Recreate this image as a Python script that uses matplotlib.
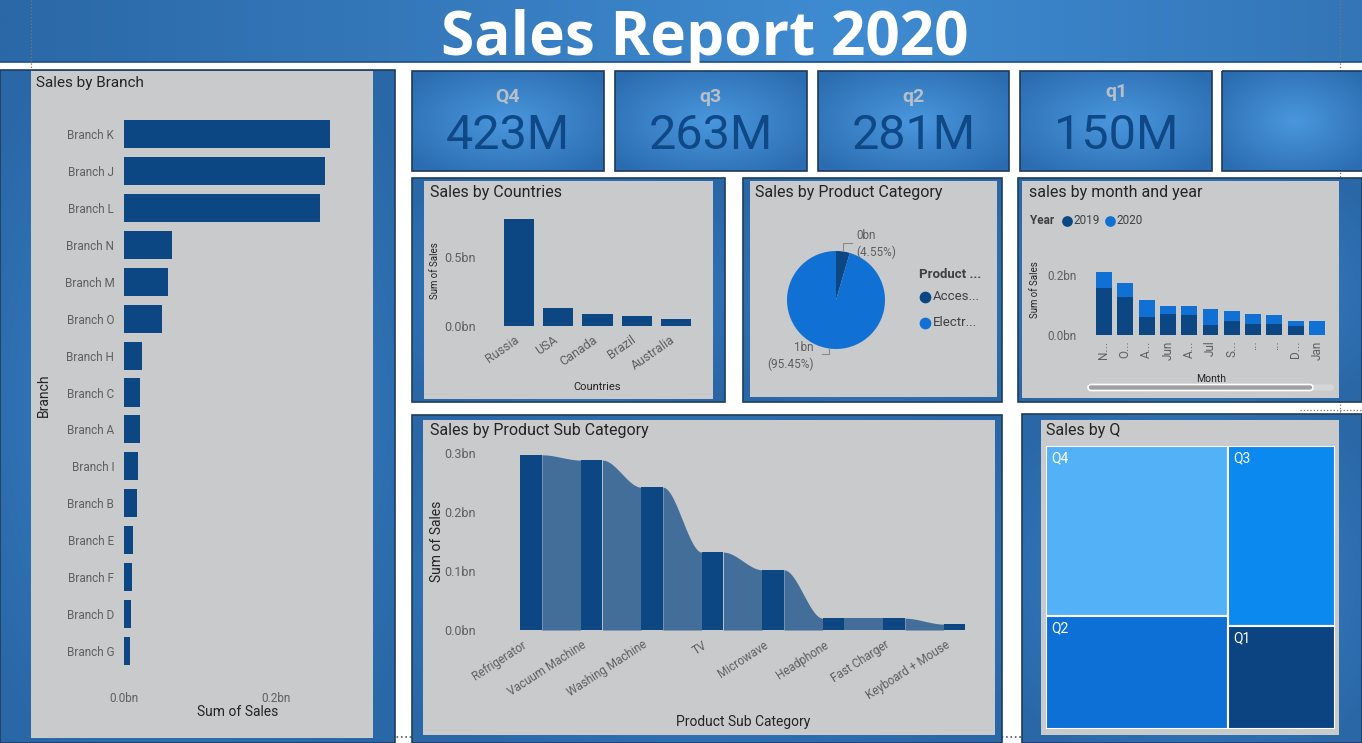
import numpy as np
import matplotlib.pyplot as plt
import matplotlib.patches as mpatches
from matplotlib.colors import to_rgb
from matplotlib.transforms import ScaledTranslation

plt.rcParams['font.family'] = ['Roboto', 'DejaVu Sans']

W, H = 1362, 743

# ---------------- data ----------------
report_title = "Sales Report 2020"
kpi_labels = ["Q4", "q3", "q2", "q1"]
kpi_values = ["423M", "263M", "281M", "150M"]

branches = ["Branch K", "Branch J", "Branch L", "Branch N", "Branch M", "Branch O", "Branch H",
            "Branch C", "Branch A", "Branch I", "Branch B", "Branch E", "Branch F", "Branch D", "Branch G"]
branch_sales = [0.271, 0.264, 0.258, 0.063, 0.058, 0.050, 0.024,
                0.021, 0.021, 0.018, 0.017, 0.012, 0.011, 0.009, 0.008]

countries = ["Russia", "USA", "Canada", "Brazil", "Australia"]
country_sales = [0.775, 0.13, 0.087, 0.072, 0.05]

categories = ["Acces...", "Electr..."]
category_share = [4.55, 95.45]
category_labels = ["0bn\n(4.55%)", "1bn\n(95.45%)"]

months = ["N...", "O...", "A...", "Jun", "A...", "Jul", "S...", "...", "...", "D...", "Jan"]
years = ["2019", "2020"]
sales_2019 = [0.156, 0.126, 0.059, 0.069, 0.066, 0.032, 0.046, 0.038, 0.036, 0.029, 0.0]
sales_2020 = [0.054, 0.046, 0.057, 0.029, 0.031, 0.056, 0.035, 0.033, 0.031, 0.019, 0.048]

subcats = ["Refrigerator", "Vacuum Machine", "Washing Machine", "TV", "Microwave",
           "Headphone", "Fast Charger", "Keyboard + Mouse"]
subcat_sales = [0.297, 0.288, 0.242, 0.132, 0.102, 0.020, 0.020, 0.010]

quarters = ["Q4", "Q3", "Q2", "Q1"]
quarter_sales = [423, 263, 281, 150]

# ---------------- style ----------------
NAVY = "#0c4783"
MID = "#1170d4"
RIBBON = "#426e99"
PANEL = "#c8cacc"
TICK = "#5f5f5f"
DARK = "#252423"
tm_colors = {"Q4": "#53b1f8", "Q3": "#0b89ef", "Q2": "#0c70d6", "Q1": "#0b4480"}

fig = plt.figure(figsize=(W / 100, H / 100), dpi=100, facecolor='white')
bg = fig.add_axes([0, 0, 1, 1])
bg.set_axis_off()


def px_axes(x0, y0, x1, y1):
    ax = fig.add_axes([x0 / W, 1 - y1 / H, (x1 - x0) / W, (y1 - y0) / H])
    ax.set_facecolor('none')
    for s in ax.spines.values():
        s.set_visible(False)
    return ax


def shade(x0, y0, x1, y1, c_in, c_out, mode='radial', z=1):
    xx, yy = np.meshgrid(np.linspace(-1, 1, 80), np.linspace(-1, 1, 80))
    if mode == 'radial':
        t = np.clip(np.hypot(xx, yy) / 1.3, 0, 1)
    else:
        t = np.clip(np.abs(xx - 0.25) / 1.25, 0, 1)
    a, b = np.array(to_rgb(c_in)), np.array(to_rgb(c_out))
    img = a * (1 - t[..., None]) + b * t[..., None]
    bg.imshow(img, extent=(x0, x1, y1, y0), aspect='auto', interpolation='bilinear', zorder=z)


def box(x0, y0, x1, y1, fc='none', ec='none', lw=0, z=2):
    bg.add_patch(mpatches.Rectangle((x0, y0), x1 - x0, y1 - y0, facecolor=fc,
                                    edgecolor=ec, linewidth=lw, zorder=z))


def txt(x, y, s, size=10, color=DARK, **kw):
    kw.setdefault('va', 'center')
    bg.text(x, y, s, fontsize=size, color=color, zorder=6, **kw)


# banner
shade(0, 0, W, 62, '#3f8bd1', '#2b68a7', mode='h')
bg.plot([0, W], [62, 62], color='#1d4f86', lw=1.2, zorder=3)
txt(705, 55, report_title, size=43.5, color='white', ha='center', va='baseline',
    family=['Open Sans', 'DejaVu Sans'], weight='bold')

# dotted guides
bg.plot([31, 31], [0, 70], ls=':', color='#777777', lw=0.9, zorder=4)
bg.plot([1340, 1340], [0, 415], ls=':', color='#777777', lw=0.9, zorder=1.5)
bg.plot([370, 1040], [737, 737], ls=':', color='#555555', lw=1.2, zorder=1.5)
bg.plot([1300, W], [410, 410], ls=':', color='#777777', lw=0.9, zorder=1.5)

# visual frames
frames = [
    ((0, 70, 395, H), (31, 71, 373, 738)),
    ((412, 178, 725, 402), (424, 181, 713, 399)),
    ((743, 178, 1002, 402), (750, 181, 997, 397)),
    ((1018, 178, W, 402), (1022, 181, 1339, 398)),
    ((412, 415, 1002, H), (423, 420, 995, 735)),
    ((1022, 414, W, H), (1041, 420, 1339, 735)),
]
for (o, i) in frames:
    shade(*o, '#3b87cd', '#2a67a7', z=2)
    box(*o, ec='#1f3d5c', lw=1.2, z=3)
    box(*i, fc=PANEL, z=3)

# KPI cards
cards = [(412, 604), (615, 807), (818, 1009), (1020, 1212), (1222, W + 5)]
for k, (x0, x1) in enumerate(cards):
    shade(x0, 71, x1, 171, '#4a97dd', '#2b6cb0', z=2)
    box(x0, 71, x1, 171, ec='#1e3a58', lw=1.2, z=3)
    if k < len(kpi_values):
        cx = (x0 + x1) / 2
        txt(cx, 97 if k < 3 else 92, kpi_labels[k], size=14, color='#b7c0ca', ha='center', weight='bold')
        txt(cx, 136, kpi_values[k], size=35, color='#0f4886', ha='center')

# panel titles
txt(36, 83, "Sales by Branch", size=11)
txt(430, 192, "Sales by Countries", size=11.5)
txt(755, 192, "Sales by Product Category", size=11.5)
txt(1029, 192, "sales by month and year", size=11.5)
txt(430, 431, "Sales by Product Sub Category", size=11.5)
txt(1046, 431, "Sales by Q", size=11.5)

# ---------------- Sales by Branch ----------------
ax = px_axes(124, 115.5, 352, 669.5)
yb = np.arange(len(branches))
ax.barh(yb, branch_sales, height=0.76, color=NAVY)
ax.set_ylim(len(branches) - 0.5, -0.5)
ax.set_xlim(0, 0.3)
ax.set_yticks(yb, branches)
ax.set_xticks([0, 0.2], ["0.0bn", "0.2bn"])
ax.tick_params(axis='y', length=0, labelsize=8.5, labelcolor=TICK, pad=7)
ax.tick_params(axis='x', length=0, labelsize=8.5, labelcolor=TICK, pad=16)
txt(238, 712, "Sum of Sales", size=10, ha='center')
txt(44, 395, "Branch", size=10, ha='center', rotation=90)

# ---------------- Sales by Countries ----------------
ax = px_axes(499.5, 208.7, 695.5, 326)
xc = np.arange(len(countries))
ax.bar(xc, country_sales, width=0.77, color=NAVY)
ax.set_xlim(-0.5, len(countries) - 0.5)
ax.set_ylim(0, 0.85)
ax.set_yticks([0, 0.5], ["0.0bn", "0.5bn"])
ax.set_xticks(xc, countries, rotation=35, ha='right', rotation_mode='anchor')
ax.tick_params(axis='y', length=0, labelsize=9, labelcolor=TICK, pad=17)
ax.tick_params(axis='x', length=0, labelsize=9, labelcolor=TICK, pad=5)
for lbl in ax.get_xticklabels():
    lbl.set_transform(lbl.get_transform() + ScaledTranslation(-4 / 72, 0, fig.dpi_scale_trans))
txt(597, 387, "Countries", size=8, ha='center')
txt(435, 271, "Sum of Sales", size=7, ha='center', rotation=90)

# ---------------- Sales by Product Category ----------------
ax = px_axes(787, 251, 885, 349)
ax.pie(category_share, colors=[NAVY, MID], startangle=90, counterclock=False,
       wedgeprops=dict(linewidth=0))
ax.set_xlim(-1, 1)
ax.set_ylim(-1, 1)
ang = 90 - np.cumsum([0] + category_share[:-1]) * 3.6 - np.array(category_share) * 1.8
a0, a1 = np.radians(ang)
ax.plot([np.cos(a0), np.cos(a0), 0.33], [np.sin(a0), 1.16, 1.16], color='#8a8a8a', lw=0.8, clip_on=False)
ax.text(0.42, 1.14, category_labels[0], ha='left', va='center', fontsize=8.5, color=TICK, linespacing=1.3)
ax.plot([np.cos(a1), np.cos(a1), -0.28], [np.sin(a1), -1.1, -1.1], color='#8a8a8a', lw=0.8, clip_on=False)
ax.text(-0.45, -1.14, category_labels[1], ha='right', va='center', fontsize=8.5, color=TICK,
        linespacing=1.3, multialignment='right')
txt(919, 274, "Product ...", size=9.5, color='#404040', weight='bold')
for k, (lab, c) in enumerate(zip(categories, [NAVY, MID])):
    bg.scatter([925], [297 + 26 * k], s=55, color=c, zorder=6)
    txt(933, 297 + 26 * k, lab, size=9.5, color='#404040')

# ---------------- sales by month and year ----------------
ax = px_axes(1093.35, 260, 1327.65, 335)
xm = np.arange(len(months))
ax.bar(xm, sales_2019, width=0.75, color=NAVY)
ax.bar(xm, sales_2020, bottom=sales_2019, width=0.75, color=MID)
ax.set_xlim(-0.5, len(months) - 0.5)
ax.set_ylim(0, 0.25)
ax.set_yticks([0, 0.2], ["0.0bn", "0.2bn"])
ax.set_xticks(xm, months, rotation=90)
ax.tick_params(axis='y', length=0, labelsize=8.5, labelcolor=TICK, pad=12)
ax.tick_params(axis='x', length=0, labelsize=8.5, labelcolor=TICK, pad=4)
txt(1035, 290, "Sum of Sales", size=7, ha='center', rotation=90)
txt(1211, 379, "Month", size=7.5, ha='center')
txt(1030, 221, "Year", size=8.5, color='#404040', weight='bold')
for k, (lab, c) in enumerate(zip(years, [NAVY, MID])):
    bg.scatter([1067 + 43 * k], [221], s=45, color=c, zorder=6)
    txt(1073 + 43 * k, 221, lab, size=8.5, color='#404040')
bg.add_patch(mpatches.FancyBboxPatch((1088, 384.5), 246, 6, boxstyle='round,pad=0,rounding_size=3',
                                     facecolor='#d4d6d8', edgecolor='none', zorder=5))
bg.add_patch(mpatches.FancyBboxPatch((1088, 384.5), 225, 6, boxstyle='round,pad=0,rounding_size=3',
                                     facecolor='#a0a0a0', edgecolor='white', lw=1.2, zorder=5))

# ---------------- Sales by Product Sub Category ----------------
ax = px_axes(500.75, 453, 984.75, 630)
xs_ = np.arange(len(subcats))
bw = 0.36
for k in range(len(subcats) - 1):
    xr = np.linspace(xs_[k] + bw / 2, xs_[k + 1] - bw / 2, 60)
    t = (xr - xr[0]) / (xr[-1] - xr[0])
    s = t * t * (3 - 2 * t)
    ytop = subcat_sales[k] + (subcat_sales[k + 1] - subcat_sales[k]) * s
    ax.fill_between(xr, 0, ytop, color=RIBBON, lw=0)
ax.bar(xs_, subcat_sales, width=bw, color=NAVY, zorder=3)
ax.set_xlim(-0.5, len(subcats) - 0.5)
ax.set_ylim(0, 0.3)
ax.set_yticks([0, 0.1, 0.2, 0.3], ["0.0bn", "0.1bn", "0.2bn", "0.3bn"])
ax.set_xticks(xs_, subcats, rotation=33, ha='right', rotation_mode='anchor')
ax.tick_params(axis='y', length=0, labelsize=9, labelcolor=TICK, pad=18)
ax.tick_params(axis='x', length=0, labelsize=8.5, labelcolor=TICK, pad=6)
for lbl in ax.get_xticklabels():
    lbl.set_transform(lbl.get_transform() + ScaledTranslation(-7 / 72, 0, fig.dpi_scale_trans))
txt(743, 722, "Product Sub Category", size=10, ha='center')
txt(437, 541, "Sum of Sales", size=10, ha='center', rotation=90)

# ---------------- Sales by Q (treemap) ----------------
ax = px_axes(1046, 446, 1335, 729)
ax.set_xlim(0, 1)
ax.set_ylim(1, 0)
ax.set_xticks([])
ax.set_yticks([])
qv = dict(zip(quarters, quarter_sales))
total = sum(quarter_sales)
wl = (qv["Q4"] + qv["Q2"]) / total
h4 = qv["Q4"] / (qv["Q4"] + qv["Q2"])
h3 = qv["Q3"] / (qv["Q3"] + qv["Q1"])
rects = {"Q4": (0, 0, wl, h4), "Q2": (0, h4, wl, 1 - h4),
         "Q3": (wl, 0, 1 - wl, h3), "Q1": (wl, h3, 1 - wl, 1 - h3)}
for q in quarters:
    x0, y0, w_, h_ = rects[q]
    ax.add_patch(mpatches.Rectangle((x0, y0), w_, h_, facecolor=tm_colors[q],
                                    edgecolor='white', lw=1.5))
    ax.text(x0 + 0.018, y0 + 0.018, q, color='white', fontsize=10, ha='left', va='top')

bg.set_xlim(0, W)
bg.set_ylim(H, 0)
fig.savefig("out.png", dpi=100, facecolor=fig.get_facecolor())
